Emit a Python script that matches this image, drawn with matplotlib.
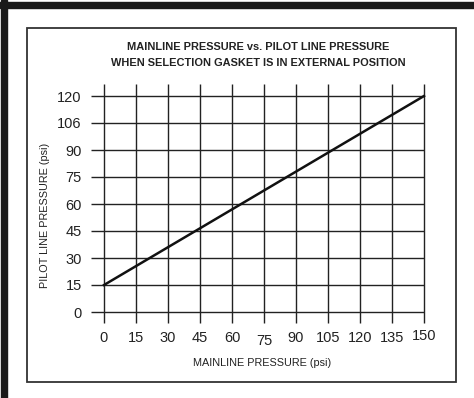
import numpy as np
import matplotlib.pyplot as plt
from matplotlib.patches import Rectangle
from matplotlib.transforms import ScaledTranslation

plt.rcParams['font.family'] = ['Liberation Sans', 'DejaVu Sans']

# axis ticks and the pressure curve
x_ticks = [0, 15, 30, 45, 60, 75, 90, 105, 120, 135, 150]
y_ticks = [0, 15, 30, 45, 60, 75, 90, 105, 120]
y_labels = ['0', '15', '30', '45', '60', '75', '90', '106', '120']
mainline = [0, 150]
pilot = [15, 120]

W, H = 474, 398
fig = plt.figure(figsize=(W / 100, H / 100), dpi=100)

# frame: heavy bar on left/top, thin box round the chart
fig.patches.append(Rectangle((1 / W, 0), 6 / W, 1, transform=fig.transFigure,
                             color='#1a1a1a', zorder=0))
fig.patches.append(Rectangle((0, 1 - 8 / H), 1, 6 / H, transform=fig.transFigure,
                             color='#1a1a1a', zorder=0))
fig.patches.append(Rectangle((27 / W, 1 - 382 / H), 429 / W, 354 / H,
                             transform=fig.transFigure, fill=False,
                             edgecolor='#333333', lw=1.3, zorder=0))

ax = fig.add_axes([104 / W, 1 - 312 / H, 320 / W, 216 / H])
ax.set_xlim(0, 150)
ax.set_ylim(0, 120)
for s in ax.spines.values():
    s.set_visible(False)
ax.patch.set_alpha(0)

# grid lines run a little past the plotting area
ax.vlines(x_ticks, -6, 126.5, color='#222222', lw=1.0, clip_on=False)
ax.hlines(y_ticks, -6, 150, color='#222222', lw=1.0, clip_on=False)

ax.plot(mainline, pilot, color='#111111', lw=1.8, clip_on=False)

ax.set_xticks(x_ticks)
ax.set_yticks(y_ticks)
ax.set_yticklabels(y_labels)
ax.tick_params(length=0, labelsize=10.5, colors='#222222')
ax.tick_params(axis='x', pad=14)
ax.tick_params(axis='y', pad=16)

# the printed axis has 75 sitting low and 150 sitting high
for lab in ax.get_xticklabels():
    if lab.get_text() == '75':
        lab.set_transform(lab.get_transform() + ScaledTranslation(0, -1.5 / 72, fig.dpi_scale_trans))
    elif lab.get_text() == '150':
        lab.set_transform(lab.get_transform() + ScaledTranslation(0, 1.5 / 72, fig.dpi_scale_trans))

fig.text(262 / W, 1 - 363 / H, 'MAINLINE PRESSURE (psi)', ha='center', va='center',
         fontsize=7.8, color='#222222')
fig.text(45 / W, 1 - 215 / H, 'PILOT LINE PRESSURE (psi)', ha='center', va='center',
         rotation=90, fontsize=7.8, color='#222222')

fig.text(258 / W, 1 - 47 / H, 'MAINLINE PRESSURE vs. PILOT LINE PRESSURE',
         ha='center', va='center', fontsize=7.9, fontweight='bold', color='#222222')
fig.text(258 / W, 1 - 63 / H, 'WHEN SELECTION GASKET IS IN EXTERNAL POSITION',
         ha='center', va='center', fontsize=7.9, fontweight='bold', color='#222222')

fig.savefig('out.png', dpi=100)
